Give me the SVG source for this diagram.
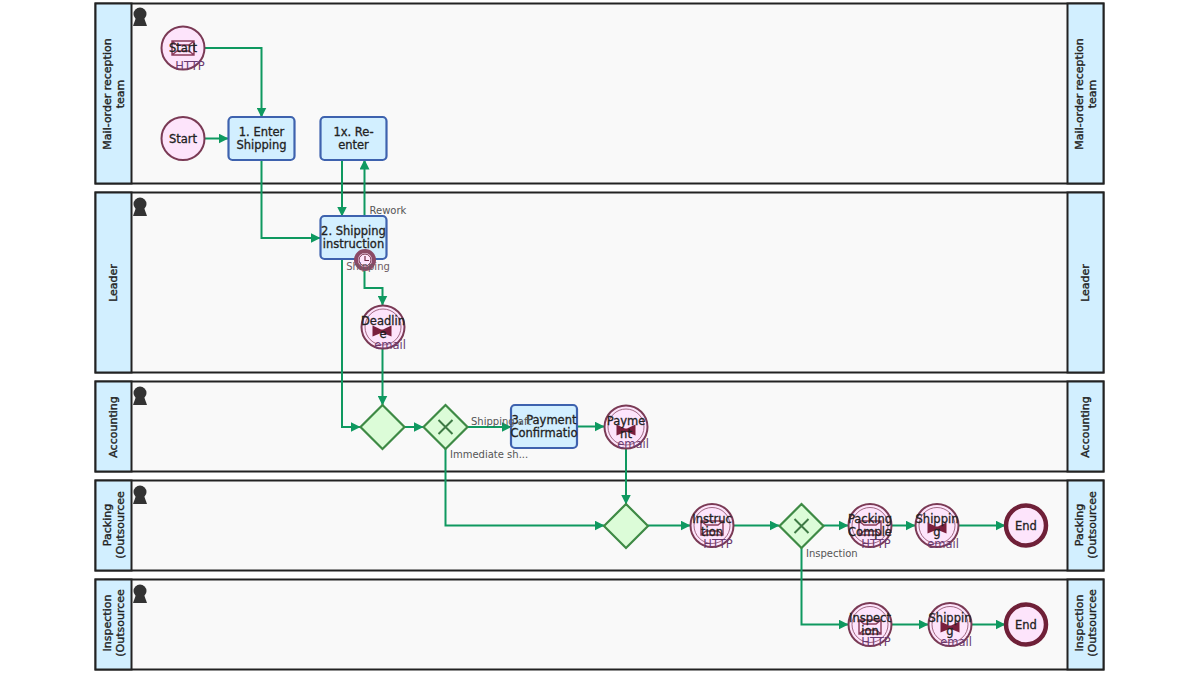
<svg xmlns="http://www.w3.org/2000/svg" width="1200" height="675" viewBox="0 0 1200 675">
<style>
text{font-family:"DejaVu Sans","Liberation Sans",sans-serif;font-size:11.5px;fill:#222;text-anchor:middle}
.lane{fill:#f9f9f9;stroke:#222;stroke-width:2}
.head{fill:#d2efff;stroke:#222;stroke-width:2}
.ln{font-size:11px;fill:#222;stroke:#222;stroke-width:.35px}
.task{fill:#d2efff;stroke:#3e62ae;stroke-width:2.2}
.ev{fill:#fde4fb;stroke:#7a3a55;stroke-width:2}
.evin{fill:none;stroke:#8a4a65;stroke-width:1;opacity:.8}
.end{fill:#fde4fb;stroke:#6f2038;stroke-width:4.5}
.gw{fill:#dcfcd8;stroke:#3e8a45;stroke-width:2.2}
.x{fill:none;stroke:#3e7a45;stroke-width:2}
.c{fill:none;stroke:#0f9960;stroke-width:2;marker-end:url(#a)}
.t{stroke:#222;stroke-width:.3px}
.sub{font-size:11.5px;fill:#6a3a70}
.lab{font-size:10px;fill:#555;text-anchor:start}
.p{fill:#333}
.ic{fill:none;stroke:#8a3a5a;stroke-width:1.4}
.bow{fill:#7a1f3d}
</style>
<defs>
<marker id="a" viewBox="0 0 10 10" refX="9.500" refY="5" markerWidth="5" markerHeight="5" orient="auto"><path d="M0 0L10 5L0 10Z" fill="#0f9960"/></marker>
<g id="person"><circle cx="0" cy="-1" r="6.500" class="p"/><path d="M-4.500 4H4.500L7 11H-7Z" class="p"/></g>
<path id="http" d="M-11 -7H11V7H-11Z M-11 -7L-6 -3H6L11 -7 M-11 7L-6 3H6L11 7" class="ic"/>
<path id="bow" d="M-9.500 -5.500L-1 -1.500H1L9.500 -5.500V5.500L1 2H-1L-9.500 5.500Z" class="bow"/>
</defs>

<g id="lane1"><rect class="lane" x="95.500" y="3.500" width="1008" height="180"/><rect class="head" x="95.500" y="3.500" width="36" height="180"/><rect class="head" x="1067.500" y="3.500" width="36" height="180"/><use href="#person" x="140" y="15"/>
<text class="ln" transform="translate(111 94) rotate(-90)"><tspan x="0" y="0">Mail-order reception</tspan><tspan x="0" y="13">team</tspan></text>
<text class="ln" transform="translate(1083 94) rotate(-90)"><tspan x="0" y="0">Mail-order reception</tspan><tspan x="0" y="13">team</tspan></text></g>
<g id="lane2"><rect class="lane" x="95.500" y="192.500" width="1008" height="180"/><rect class="head" x="95.500" y="192.500" width="36" height="180"/><rect class="head" x="1067.500" y="192.500" width="36" height="180"/><use href="#person" x="140" y="205"/>
<text class="ln" transform="translate(117 283) rotate(-90)">Leader</text><text class="ln" transform="translate(1089 283) rotate(-90)">Leader</text></g>
<g id="lane3"><rect class="lane" x="95.500" y="381.500" width="1008" height="90"/><rect class="head" x="95.500" y="381.500" width="36" height="90"/><rect class="head" x="1067.500" y="381.500" width="36" height="90"/><use href="#person" x="140" y="394"/>
<text class="ln" transform="translate(117 427) rotate(-90)">Accounting</text><text class="ln" transform="translate(1089 427) rotate(-90)">Accounting</text></g>
<g id="lane4"><rect class="lane" x="95.500" y="480.500" width="1008" height="90"/><rect class="head" x="95.500" y="480.500" width="36" height="90"/><rect class="head" x="1067.500" y="480.500" width="36" height="90"/><use href="#person" x="140" y="493"/>
<text class="ln" transform="translate(111 525) rotate(-90)"><tspan x="0" y="0">Packing</tspan><tspan x="0" y="13">(Outsourcee</tspan></text>
<text class="ln" transform="translate(1083 525) rotate(-90)"><tspan x="0" y="0">Packing</tspan><tspan x="0" y="13">(Outsourcee</tspan></text></g>
<g id="lane5"><rect class="lane" x="95.500" y="579.500" width="1008" height="90"/><rect class="head" x="95.500" y="579.500" width="36" height="90"/><rect class="head" x="1067.500" y="579.500" width="36" height="90"/><use href="#person" x="140" y="592"/>
<text class="ln" transform="translate(111 623) rotate(-90)"><tspan x="0" y="0">Inspection</tspan><tspan x="0" y="13">(Outsourcee</tspan></text>
<text class="ln" transform="translate(1083 623) rotate(-90)"><tspan x="0" y="0">Inspection</tspan><tspan x="0" y="13">(Outsourcee</tspan></text></g>

<g id="connectors">
<path class="c" d="M205 48H261.500V117"/>
<path class="c" d="M205 138.500H228"/>
<path class="c" d="M261.500 160V238H320"/>
<path class="c" d="M342 160V216"/>
<path class="c" d="M364.500 216V160"/>
<path class="c" d="M342 259V427H360"/>
<path class="c" d="M364.500 271V288H382.500V305"/>
<path class="c" d="M382.500 349V405"/>
<path class="c" d="M404 427H423"/>
<path class="c" d="M467 427H511"/>
<path class="c" d="M445.500 449V525.500H604"/>
<path class="c" d="M577 426.500H604"/>
<path class="c" d="M626 449V504"/>
<path class="c" d="M648 525.500H690"/>
<path class="c" d="M734 525.500H779"/>
<path class="c" d="M823 525.500H848"/>
<path class="c" d="M892 525.500H915"/>
<path class="c" d="M959 525.500H1005"/>
<path class="c" d="M801.500 548V624.500H848"/>
<path class="c" d="M892 624.500H928"/>
<path class="c" d="M972 624.500H1005"/>
</g>

<g id="startHttp"><circle class="ev" cx="183" cy="48" r="21.500"/><use href="#http" x="183" y="48"/><text class="t" x="183" y="52">Start</text><text class="sub" x="190" y="70">HTTP</text></g>
<g id="start"><circle class="ev" cx="183" cy="138.500" r="21.500"/><text class="t" x="183" y="142.500">Start</text></g>
<g id="task1"><rect class="task" x="228.500" y="117" width="66" height="43" rx="4"/><text class="t" x="261.500" y="136">1. Enter</text><text class="t" x="261.500" y="149">Shipping</text></g>
<g id="task1x"><rect class="task" x="320.500" y="117" width="66" height="43" rx="4"/><text class="t" x="353.500" y="136">1x. Re-</text><text class="t" x="353.500" y="149">enter</text></g>
<g id="task2"><rect class="task" x="320.500" y="216" width="66" height="43" rx="4"/><text class="t" x="353.500" y="235">2. Shipping</text><text class="t" x="353.500" y="248">instruction</text></g>
<g id="timer"><circle cx="365" cy="260" r="9" fill="#fde4fb" stroke="#8b4a66" stroke-width="4"/><circle cx="365" cy="260" r="6" fill="#fde4fb" stroke="#6f2a45" stroke-width="1"/><path d="M365 256V260.500H369" fill="none" stroke="#6f2a45" stroke-width="1.200"/><text class="sub" x="368" y="270" style="font-size:10px;fill:#6b5a62">Shipping</text></g>
<text class="lab" x="369.500" y="214">Rework</text>
<g id="deadline"><circle class="ev" cx="383" cy="327" r="21.500"/><circle class="evin" cx="383" cy="327" r="18"/><use href="#bow" x="382" y="331"/><text class="t" x="383" y="325">Deadlin</text><text class="t" x="383" y="338">e</text><text class="sub" x="390" y="349">email</text></g>
<g id="gw1"><path class="gw" d="M382.500 405L404.500 427L382.500 449L360.500 427Z"/></g>
<g id="gw2"><path class="gw" d="M445.500 405L467.500 427L445.500 449L423.500 427Z"/><path class="x" d="M438.500 420L452.500 434M452.500 420L438.500 434"/></g>
<text class="lab" x="450" y="458">Immediate sh...</text>
<g id="task3"><rect class="task" x="511" y="405" width="66" height="43" rx="4"/><text class="t" x="544" y="424">3. Payment</text><text class="t" x="544" y="437">Confirmatio</text></g>
<text class="lab" x="471" y="425">Shipping aft</text>
<g id="payment"><circle class="ev" cx="626" cy="427" r="21.500"/><circle class="evin" cx="626" cy="427" r="18"/><use href="#bow" x="626" y="430"/><text class="t" x="626" y="425">Payme</text><text class="t" x="626" y="438">nt</text><text class="sub" x="633" y="448">email</text></g>
<g id="gw3"><path class="gw" d="M626 504L648 526L626 548L604 526Z"/></g>
<g id="instruction"><circle class="ev" cx="712" cy="525.500" r="21.500"/><circle class="evin" cx="712" cy="525.500" r="18"/><use href="#http" x="712" y="528"/><text class="t" x="712" y="523">Instruc</text><text class="t" x="712" y="536">tion</text><text class="sub" x="718" y="548">HTTP</text></g>
<g id="gw4"><path class="gw" d="M801.500 504L823.500 526L801.500 548L779.500 526Z"/><path class="x" d="M794.500 519L808.500 533M808.500 519L794.500 533"/></g>
<text class="lab" x="806" y="557">Inspection</text>
<g id="packing"><circle class="ev" cx="870" cy="525.500" r="21.500"/><circle class="evin" cx="870" cy="525.500" r="18"/><use href="#http" x="870" y="528"/><text class="t" x="870" y="523">Packing</text><text class="t" x="870" y="536">Comple</text><text class="sub" x="876" y="548">HTTP</text></g>
<g id="shipping1"><circle class="ev" cx="937" cy="525.500" r="21.500"/><circle class="evin" cx="937" cy="525.500" r="18"/><use href="#bow" x="937" y="528"/><text class="t" x="937" y="523">Shippin</text><text class="t" x="937" y="536">g</text><text class="sub" x="943" y="548">email</text></g>
<g id="end1"><circle class="end" cx="1026" cy="525.500" r="20"/><text class="t" x="1026" y="529.500">End</text></g>
<g id="inspection"><circle class="ev" cx="870" cy="624.500" r="21.500"/><circle class="evin" cx="870" cy="624.500" r="18"/><use href="#http" x="870" y="627"/><text class="t" x="870" y="622">Inspect</text><text class="t" x="870" y="635">ion</text><text class="sub" x="876" y="646">HTTP</text></g>
<g id="shipping2"><circle class="ev" cx="950" cy="624.500" r="21.500"/><circle class="evin" cx="950" cy="624.500" r="18"/><use href="#bow" x="950" y="627"/><text class="t" x="950" y="622">Shippin</text><text class="t" x="950" y="635">g</text><text class="sub" x="956" y="646">email</text></g>
<g id="end2"><circle class="end" cx="1026" cy="624.500" r="20"/><text class="t" x="1026" y="628.500">End</text></g>
</svg>
